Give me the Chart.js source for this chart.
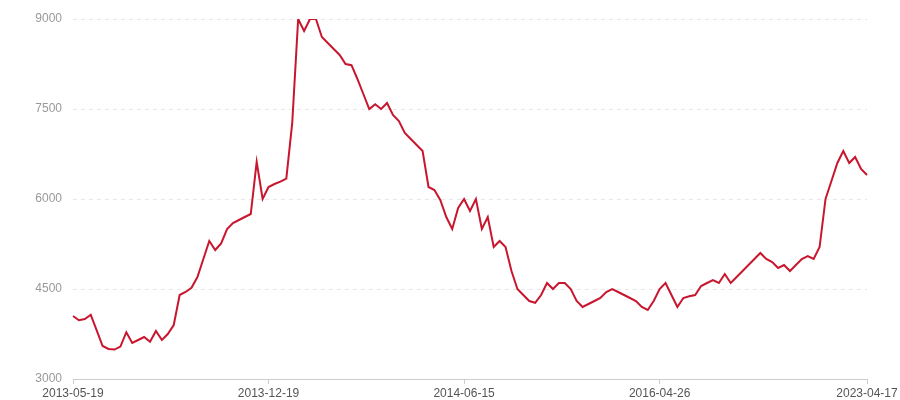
<!DOCTYPE html>
<html>
<head>
<meta charset="utf-8">
<script src="https://cdn.jsdelivr.net/npm/chart.js@4/dist/chart.umd.min.js"></script>
<style>
html, body { margin: 0; padding: 0; background: #fff; }
</style>
</head>
<body>
<canvas id="lineChart" width="900" height="400"></canvas>
<script>
// series values, one point per date
let values = [
4050, 3980, 4000, 4070, 3810, 3550, 3500, 3490, 3540, 3780,
3600, 3650, 3700, 3620, 3800, 3650, 3750, 3900, 4400, 4450,
4520, 4700, 5000, 5300, 5150, 5260, 5500, 5600, 5650, 5700,
5750, 6620, 6000, 6200, 6250, 6290, 6340, 7270, 9000, 8800,
9000, 9000, 8700, 8600, 8500, 8400, 8250, 8230, 8000, 7750,
7500, 7580, 7500, 7600, 7400, 7300, 7100, 7000, 6900, 6800,
6200, 6150, 5980, 5700, 5500, 5850, 6000, 5800, 6000, 5500,
5700, 5200, 5300, 5200, 4800, 4500, 4400, 4300, 4270, 4400,
4600, 4500, 4600, 4600, 4500, 4300, 4200, 4250, 4300, 4350,
4450, 4500, 4450, 4400, 4350, 4300, 4200, 4150, 4300, 4500,
4600, 4400, 4200, 4350, 4380, 4400, 4550, 4600, 4650, 4600,
4750, 4600, 4700, 4800, 4900, 5000, 5100, 5000, 4950, 4850,
4900, 4800, 4900, 5000, 5050, 5000, 5200, 6000, 6300, 6600,
6800, 6600, 6700, 6500, 6400
];

// dates shown on the x axis and where they sit
let tickDates = ["2013-05-19", "2013-12-19", "2014-06-15", "2016-04-26", "2023-04-17"];
let tickIndex = [0, 33, 66, 99, 134];

// y axis ticks
let yTicks = [3000, 4500, 6000, 7500, 9000];

let labels = values.map(function(v, i){
let k = tickIndex.indexOf(i);
return k >= 0 ? tickDates[k] : "";
});

let ctx = document.getElementById("lineChart");

new Chart(ctx, {
type: 'line',
data: {
labels: labels,
datasets: [{
data: values,
borderColor: '#c8162e',
borderWidth: 2,
pointRadius: 0,
pointHoverRadius: 0,
tension: 0,
fill: false
}]
},
options: {
responsive: false,
animation: false,
layout: { padding: { left: 0, right: 33, top: 19, bottom: 0 } },
plugins: {
legend: { display: false },
tooltip: { enabled: false }
},
scales: {
x: {
offset: false,
afterFit: function(scale){ scale.height = 21; },
grid: {
drawOnChartArea: false,
drawTicks: true,
tickLength: 5,
tickColor: function(c){
return tickIndex.indexOf(c.index) >= 0 ? '#cccccc' : 'rgba(0,0,0,0)';
}
},
border: { display: true, color: '#cccccc', width: 1 },
ticks: {
autoSkip: false,
maxRotation: 0,
minRotation: 0,
padding: 2,
color: '#555555',
font: { family: 'Liberation Sans', size: 12 },
callback: function(v, i){ return labels[i]; }
}
},
y: {
min: yTicks[0],
max: yTicks[yTicks.length - 1],
afterFit: function(scale){ scale.width = 73; },
afterBuildTicks: function(scale){
scale.ticks = yTicks.map(function(v){ return { value: v }; });
},
grid: {
drawTicks: false,
color: '#e8e8e8',
lineWidth: 1
},
border: { display: false, dash: [4, 4] },
ticks: {
padding: 11,
color: '#999999',
font: { family: 'Liberation Sans', size: 12 },
callback: function(v){ return String(v); }
}
}
}
}
});
</script>
</body>
</html>
